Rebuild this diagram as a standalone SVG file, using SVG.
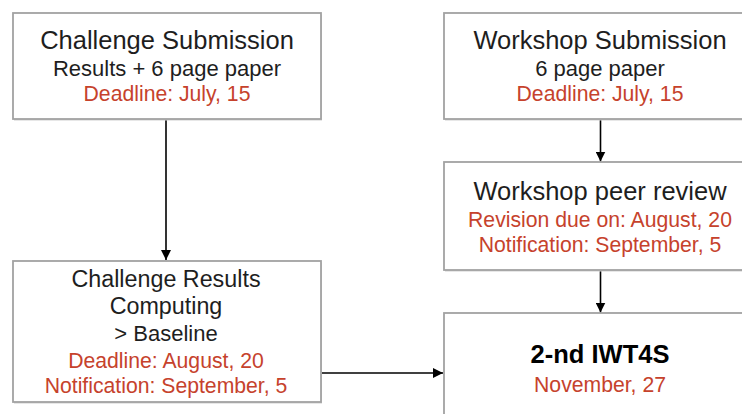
<svg xmlns="http://www.w3.org/2000/svg" width="742" height="414" viewBox="0 0 742 414">
<defs>
<marker id="ah" viewBox="0 0 10 10" refX="10" refY="5" markerWidth="10" markerHeight="10" markerUnits="userSpaceOnUse" orient="auto">
<path d="M0,0 L10,5 L0,10 z" fill="#000"/>
</marker>
</defs>
<style>
.shadow{fill:#cfcfcf;stroke:none}
.box{fill:#fff;stroke:#a2a2a2;stroke-width:1.8}
text{font-family:"Liberation Sans",Arial,Helvetica,sans-serif;text-anchor:middle;fill:#1e1e1e}
.t{font-size:25.5px}
.t2{font-size:23.3px}
.s{font-size:22px}
.r{font-size:21.2px;fill:#c6422c}
.b{font-size:25.5px;font-weight:bold;fill:#000}
.c{stroke:#000;stroke-width:1.6;fill:none;marker-end:url(#ah)}
</style>
<rect width="742" height="414" fill="#fff"/>
<g id="connectors">
<line class="c" x1="166" y1="119" x2="166" y2="260"/>
<line class="c" x1="600.5" y1="119" x2="600.5" y2="161.5"/>
<line class="c" x1="600.5" y1="270" x2="600.5" y2="312.5"/>
<line class="c" x1="319" y1="373" x2="443" y2="373"/>
</g>
<g id="challenge-submission">
<rect class="shadow" x="14" y="14.5" width="308" height="106"/>
<rect class="box" x="13" y="13" width="308" height="106"/>
<text class="t" x="167" y="49">Challenge Submission</text>
<text class="s" x="167" y="76">Results + 6 page paper</text>
<text class="r" x="167" y="101">Deadline: July, 15</text>
</g>
<g id="workshop-submission">
<rect class="shadow" x="445" y="14.5" width="310" height="106"/>
<rect class="box" x="444" y="13" width="310" height="106"/>
<text class="t" x="600" y="49">Workshop Submission</text>
<text class="s" x="600" y="76">6 page paper</text>
<text class="r" x="600" y="101">Deadline: July, 15</text>
</g>
<g id="workshop-peer-review">
<rect class="shadow" x="445" y="163.5" width="310" height="108"/>
<rect class="box" x="444" y="162" width="310" height="108"/>
<text class="t" x="600" y="200">Workshop peer review</text>
<text class="r" x="600" y="226.7">Revision due on: August, 20</text>
<text class="r" x="600" y="251.7">Notification: September, 5</text>
</g>
<g id="iwt4s">
<rect class="shadow" x="445" y="314.5" width="310" height="120"/>
<rect class="box" x="444" y="313" width="310" height="120"/>
<text class="b" x="600" y="363.3">2-nd IWT4S</text>
<text class="r" x="600" y="391.7">November, 27</text>
</g>
<g id="challenge-results">
<rect class="shadow" x="14" y="262.5" width="308" height="141"/>
<rect class="box" x="13" y="261" width="308" height="141"/>
<text class="t2" x="166" y="286.7">Challenge Results</text>
<text class="t2" x="166" y="314">Computing</text>
<text class="s" x="166" y="340.7">&gt; Baseline</text>
<text class="r" x="166" y="367.7">Deadline: August, 20</text>
<text class="r" x="166" y="393.3">Notification: September, 5</text>
</g>
</svg>
